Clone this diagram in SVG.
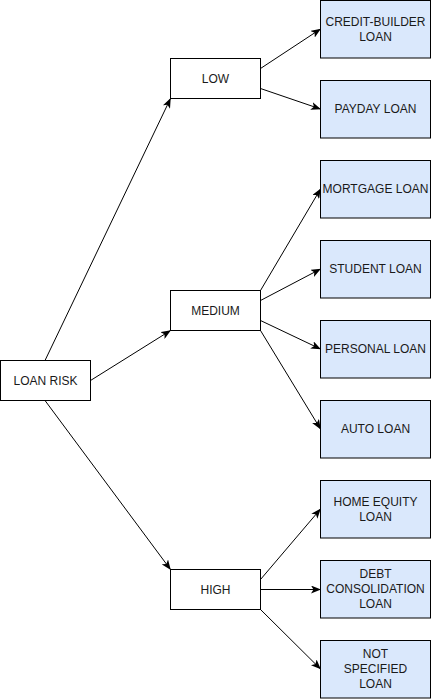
<svg xmlns="http://www.w3.org/2000/svg" width="431" height="699" viewBox="0 0 431 699">
<style>
.n{fill:#ffffff;stroke:#000000;stroke-width:1}
.b{fill:#dae8fc;stroke:#000000;stroke-width:1}
text{font-family:"Liberation Sans",Arial,Helvetica,sans-serif;font-size:12px;fill:#1a1a1a;text-anchor:middle}
.e{stroke:#000000;stroke-width:1;fill:none;marker-end:url(#arr)}
</style>
<defs>
<marker id="arr" viewBox="0 0 10 8" refX="9.5" refY="4" markerWidth="10" markerHeight="8" markerUnits="userSpaceOnUse" orient="auto">
<path d="M0,0 L10,4 L0,8 L2.5,4 Z" fill="#000000"/>
</marker>
</defs>
<rect width="431" height="699" fill="#ffffff"/>
<g id="edges">
<line class="e" x1="45" y1="360.5" x2="170.5" y2="98.5"/>
<line class="e" x1="90.5" y1="380.5" x2="170.5" y2="330.5"/>
<line class="e" x1="45" y1="400.5" x2="170.5" y2="569.5"/>
<line class="e" x1="260.5" y1="68.5" x2="320.5" y2="29"/>
<line class="e" x1="260.5" y1="88.5" x2="320.5" y2="109"/>
<line class="e" x1="260.5" y1="290.5" x2="320.5" y2="189"/>
<line class="e" x1="260.5" y1="300.5" x2="320.5" y2="269"/>
<line class="e" x1="260.5" y1="320.5" x2="320.5" y2="349"/>
<line class="e" x1="260.5" y1="330.5" x2="320.5" y2="429"/>
<line class="e" x1="260.5" y1="579.5" x2="320.5" y2="509"/>
<line class="e" x1="260.5" y1="589.5" x2="320.5" y2="589.5"/>
<line class="e" x1="260.5" y1="609.5" x2="320.5" y2="669"/>
</g>
<g id="loan-risk"><rect class="n" x="0.5" y="360.5" width="90" height="40"/><text x="45.5" y="384.5">LOAN RISK</text></g>
<g id="low"><rect class="n" x="170.5" y="58.5" width="90" height="40"/><text x="215.5" y="82.5">LOW</text></g>
<g id="medium"><rect class="n" x="170.5" y="290.5" width="90" height="40"/><text x="215.5" y="314.5">MEDIUM</text></g>
<g id="high"><rect class="n" x="170.5" y="569.5" width="90" height="40"/><text x="215.5" y="593.5">HIGH</text></g>
<g id="credit-builder"><rect class="b" x="320.5" y="0.5" width="110" height="57.5"/><text x="375.5" y="25.5">CREDIT-BUILDER</text><text x="375.5" y="40.5">LOAN</text></g>
<g id="payday"><rect class="b" x="320.5" y="80.5" width="110" height="57.5"/><text x="375.5" y="113">PAYDAY LOAN</text></g>
<g id="mortgage"><rect class="b" x="320.5" y="160.5" width="110" height="57.5"/><text x="375.5" y="193">MORTGAGE LOAN</text></g>
<g id="student"><rect class="b" x="320.5" y="240.5" width="110" height="57.5"/><text x="375.5" y="273">STUDENT LOAN</text></g>
<g id="personal"><rect class="b" x="320.5" y="320.5" width="110" height="57.5"/><text x="375.5" y="353">PERSONAL LOAN</text></g>
<g id="auto"><rect class="b" x="320.5" y="400.5" width="110" height="57.5"/><text x="375.5" y="433">AUTO LOAN</text></g>
<g id="home-equity"><rect class="b" x="320.5" y="480.5" width="110" height="57.5"/><text x="375.5" y="505.5">HOME EQUITY</text><text x="375.5" y="520.5">LOAN</text></g>
<g id="debt-consolidation"><rect class="b" x="320.5" y="560.5" width="110" height="57.5"/><text x="375.5" y="578">DEBT</text><text x="375.5" y="593">CONSOLIDATION</text><text x="375.5" y="608">LOAN</text></g>
<g id="not-specified"><rect class="b" x="320.5" y="640.5" width="110" height="57.5"/><text x="375.5" y="658">NOT</text><text x="375.5" y="673">SPECIFIED</text><text x="375.5" y="688">LOAN</text></g>
</svg>
